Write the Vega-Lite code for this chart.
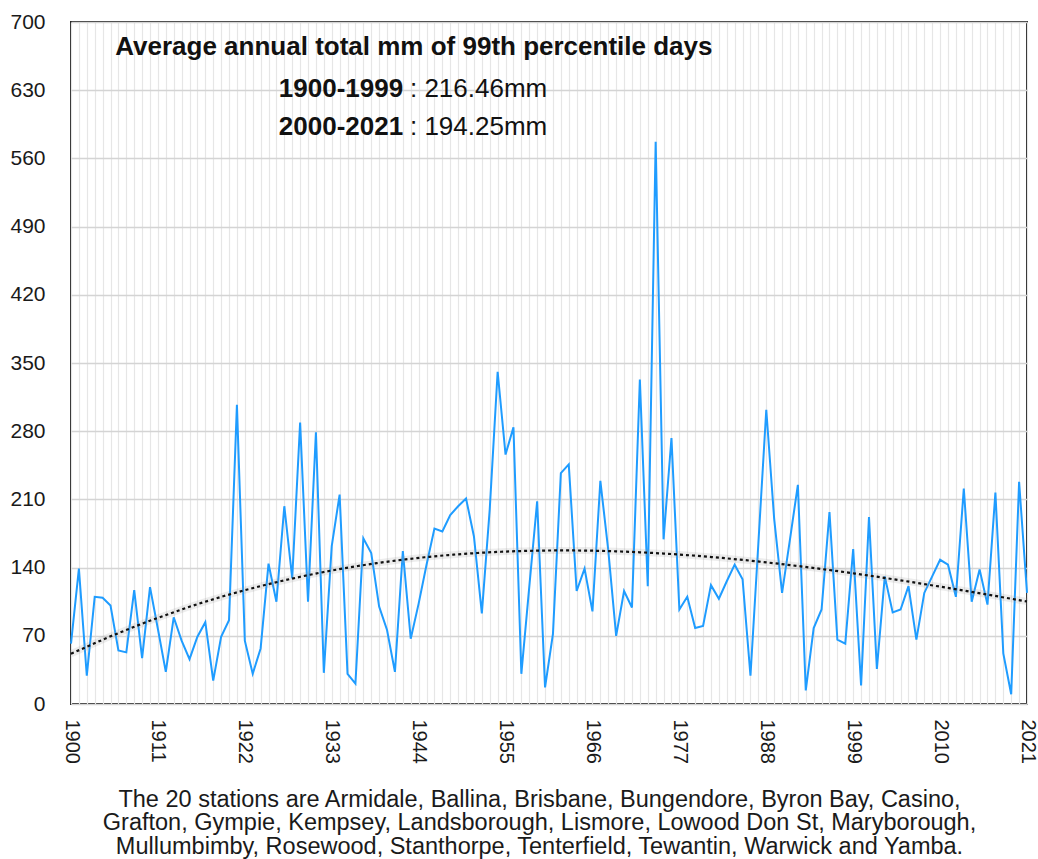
{
  "$schema": "https://vega.github.io/schema/vega-lite/v6.json",
  "autosize": {"type": "none"},
  "padding": {"left": 71, "top": 22, "right": 11, "bottom": 155},
  "width": 956,
  "height": 682,
  "background": "white",
  "config": {
    "font": "Liberation Sans",
    "view": {"stroke": "#262626", "strokeWidth": 2},
    "axis": {"labelFont": "Liberation Sans", "titleFont": "Liberation Sans"}
  },
  "datasets": {
    "rain": [
      {"year":1900,"value":62},{"year":1901,"value":139},{"year":1902,"value":29},{"year":1903,"value":110},{"year":1904,"value":109},
      {"year":1905,"value":101},{"year":1906,"value":55},{"year":1907,"value":53},{"year":1908,"value":117},{"year":1909,"value":47},
      {"year":1910,"value":120},{"year":1911,"value":77},{"year":1912,"value":33},{"year":1913,"value":89},{"year":1914,"value":65},
      {"year":1915,"value":46},{"year":1916,"value":69},{"year":1917,"value":84},{"year":1918,"value":24},{"year":1919,"value":69},
      {"year":1920,"value":86},{"year":1921,"value":307},{"year":1922,"value":65},{"year":1923,"value":31},{"year":1924,"value":57},
      {"year":1925,"value":144},{"year":1926,"value":105},{"year":1927,"value":203},{"year":1928,"value":129},{"year":1929,"value":289},
      {"year":1930,"value":105},{"year":1931,"value":279},{"year":1932,"value":32},{"year":1933,"value":162},{"year":1934,"value":215},
      {"year":1935,"value":31},{"year":1936,"value":21},{"year":1937,"value":170},{"year":1938,"value":155},{"year":1939,"value":100},
      {"year":1940,"value":76},{"year":1941,"value":33},{"year":1942,"value":157},{"year":1943,"value":67},{"year":1944,"value":103},
      {"year":1945,"value":143},{"year":1946,"value":180},{"year":1947,"value":177},{"year":1948,"value":194},{"year":1949,"value":203},
      {"year":1950,"value":211},{"year":1951,"value":172},{"year":1952,"value":93},{"year":1953,"value":200},{"year":1954,"value":341},
      {"year":1955,"value":256},{"year":1956,"value":284},{"year":1957,"value":31},{"year":1958,"value":120},{"year":1959,"value":208},
      {"year":1960,"value":17},{"year":1961,"value":72},{"year":1962,"value":237},{"year":1963,"value":246},{"year":1964,"value":116},
      {"year":1965,"value":139},{"year":1966,"value":95},{"year":1967,"value":229},{"year":1968,"value":158},{"year":1969,"value":70},
      {"year":1970,"value":116},{"year":1971,"value":99},{"year":1972,"value":333},{"year":1973,"value":121},{"year":1974,"value":577},
      {"year":1975,"value":169},{"year":1976,"value":273},{"year":1977,"value":97},{"year":1978,"value":110},{"year":1979,"value":78},
      {"year":1980,"value":80},{"year":1981,"value":122},{"year":1982,"value":108},{"year":1983,"value":126},{"year":1984,"value":143},
      {"year":1985,"value":128},{"year":1986,"value":29},{"year":1987,"value":165},{"year":1988,"value":302},{"year":1989,"value":190},
      {"year":1990,"value":114},{"year":1991,"value":169},{"year":1992,"value":225},{"year":1993,"value":14},{"year":1994,"value":78},
      {"year":1995,"value":97},{"year":1996,"value":197},{"year":1997,"value":66},{"year":1998,"value":62},{"year":1999,"value":159},
      {"year":2000,"value":19},{"year":2001,"value":192},{"year":2002,"value":36},{"year":2003,"value":131},{"year":2004,"value":94},
      {"year":2005,"value":97},{"year":2006,"value":121},{"year":2007,"value":66},{"year":2008,"value":114},{"year":2009,"value":131},
      {"year":2010,"value":148},{"year":2011,"value":143},{"year":2012,"value":110},{"year":2013,"value":221},{"year":2014,"value":105},
      {"year":2015,"value":138},{"year":2016,"value":102},{"year":2017,"value":217},{"year":2018,"value":52},{"year":2019,"value":10},
      {"year":2020,"value":228},{"year":2021,"value":114}
    ]
  },
  "layer": [
    {
      "data": {"name": "rain"},
      "mark": {"type": "line", "color": "#1f9cff", "strokeWidth": 2},
      "encoding": {
        "x": {
          "field": "year", "type": "quantitative",
          "scale": {"domain": [1900, 2021], "nice": false, "zero": false},
          "axis": {
            "values": [1900,1901,1902,1903,1904,1905,1906,1907,1908,1909,1910,1911,1912,1913,1914,1915,1916,1917,1918,1919,1920,1921,1922,1923,1924,1925,1926,1927,1928,1929,1930,1931,1932,1933,1934,1935,1936,1937,1938,1939,1940,1941,1942,1943,1944,1945,1946,1947,1948,1949,1950,1951,1952,1953,1954,1955,1956,1957,1958,1959,1960,1961,1962,1963,1964,1965,1966,1967,1968,1969,1970,1971,1972,1973,1974,1975,1976,1977,1978,1979,1980,1981,1982,1983,1984,1985,1986,1987,1988,1989,1990,1991,1992,1993,1994,1995,1996,1997,1998,1999,2000,2001,2002,2003,2004,2005,2006,2007,2008,2009,2010,2011,2012,2013,2014,2015,2016,2017,2018,2019,2020,2021],
            "tickCount": 500,
            "format": "d",
            "labelExpr": "(datum.value - 1900) % 11 == 0 ? datum.label : ''",
            "labelOverlap": false,
            "labelBound": false,
            "labelFlush": false,
            "labelAngle": 90,
            "labelAlign": "left",
            "labelBaseline": "middle",
            "labelFontSize": 20,
            "labelColor": "#1a1a1a",
            "labelPadding": 15,
            "ticks": false,
            "domain": false,
            "grid": true,
            "gridColor": "#e6e6e6",
            "gridWidth": 1.2,
            "title": [
              "The 20 stations are Armidale, Ballina, Brisbane, Bungendore, Byron Bay, Casino,",
              "Grafton, Gympie, Kempsey, Landsborough, Lismore, Lowood Don St, Maryborough,",
              "Mullumbimby, Rosewood, Stanthorpe, Tenterfield, Tewantin, Warwick and Yamba."
            ],
            "titleFontSize": 23.5,
            "titleFontWeight": "normal",
            "titleColor": "#1a1a1a",
            "titleLineHeight": 23.5,
            "titlePadding": 24,
            "titleX": 468
          }
        },
        "y": {
          "field": "value", "type": "quantitative",
          "scale": {"domain": [0, 700], "nice": false},
          "axis": {
            "values": [0, 70, 140, 210, 280, 350, 420, 490, 560, 630, 700],
            "labelFontSize": 21,
            "labelColor": "#1a1a1a",
            "labelPadding": 26,
            "ticks": false,
            "domain": false,
            "grid": true,
            "gridColor": "#d4d4d4",
            "gridWidth": 1.5,
            "title": null
          }
        }
      }
    },
    {
      "data": {"name": "rain"},
      "transform": [{"regression": "value", "on": "year", "method": "poly", "order": 3, "extent": [1900, 2021]}],
      "mark": {"type": "line", "color": "#9a9a9a", "strokeWidth": 7, "opacity": 0.18},
      "encoding": {
        "x": {"field": "year", "type": "quantitative"},
        "y": {"field": "value", "type": "quantitative"}
      }
    },
    {
      "data": {"name": "rain"},
      "transform": [{"regression": "value", "on": "year", "method": "poly", "order": 3, "extent": [1900, 2021]}],
      "mark": {"type": "line", "color": "#111111", "strokeWidth": 2.2, "strokeDash": [3, 3]},
      "encoding": {
        "x": {"field": "year", "type": "quantitative"},
        "y": {"field": "value", "type": "quantitative"}
      }
    },
    {
      "data": {"values": [{"t": "Average annual total mm of 99th percentile days"}]},
      "mark": {"type": "text", "align": "left", "baseline": "middle", "fontSize": 26, "fontWeight": "bold", "color": "#111111"},
      "encoding": {
        "x": {"datum": 1905.6, "type": "quantitative"},
        "y": {"datum": 674, "type": "quantitative"},
        "text": {"field": "t"}
      }
    },
    {
      "data": {"values": [{"period": "1900-1999", "avg": ": 216.46mm"}]},
      "layer": [
        {
          "mark": {"type": "text", "align": "left", "baseline": "middle", "fontSize": 26, "fontWeight": "bold", "color": "#111111"},
          "encoding": {
            "x": {"datum": 1926.3, "type": "quantitative"},
            "y": {"datum": 631, "type": "quantitative"},
            "text": {"field": "period"}
          }
        },
        {
          "mark": {"type": "text", "align": "left", "baseline": "middle", "fontSize": 26, "color": "#111111"},
          "encoding": {
            "x": {"datum": 1942.9, "type": "quantitative"},
            "y": {"datum": 631, "type": "quantitative"},
            "text": {"field": "avg"}
          }
        }
      ]
    },
    {
      "data": {"values": [{"period": "2000-2021", "avg": ": 194.25mm"}]},
      "layer": [
        {
          "mark": {"type": "text", "align": "left", "baseline": "middle", "fontSize": 26, "fontWeight": "bold", "color": "#111111"},
          "encoding": {
            "x": {"datum": 1926.3, "type": "quantitative"},
            "y": {"datum": 592, "type": "quantitative"},
            "text": {"field": "period"}
          }
        },
        {
          "mark": {"type": "text", "align": "left", "baseline": "middle", "fontSize": 26, "color": "#111111"},
          "encoding": {
            "x": {"datum": 1942.9, "type": "quantitative"},
            "y": {"datum": 592, "type": "quantitative"},
            "text": {"field": "avg"}
          }
        }
      ]
    }
  ]
}
